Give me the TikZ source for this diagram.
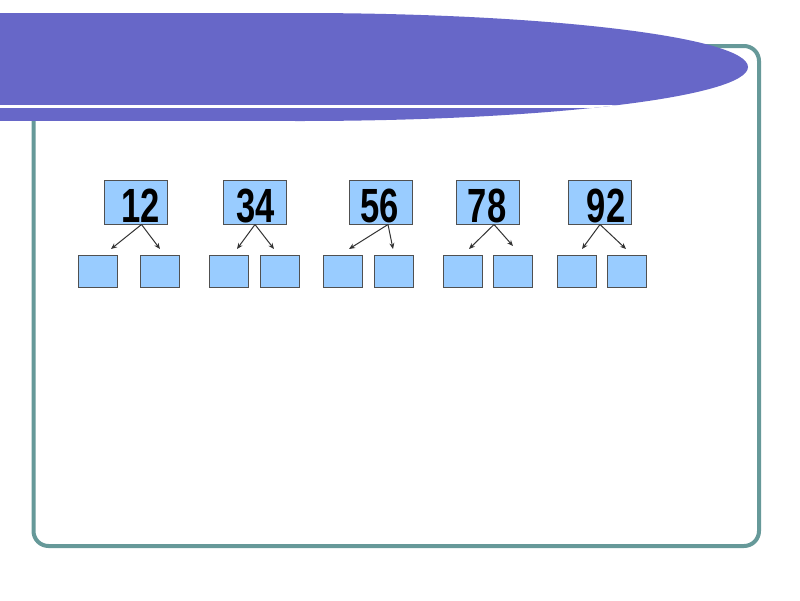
\documentclass[tikz,border=0pt]{standalone}
\usepackage{fontspec}
\setsansfont{Liberation Sans}
\usetikzlibrary{arrows.meta}
\definecolor{nbBanner}{HTML}{6767C8}
\definecolor{nbFrame}{HTML}{669999}
\definecolor{nbFill}{HTML}{99CCFF}
\definecolor{nbEdge}{HTML}{505050}
\definecolor{nbInk}{HTML}{333333}
\tikzset{
  nb frame/.style={draw=nbFrame, line width=4pt, rounded corners=15pt},
  nb box/.style={draw=nbEdge, fill=nbFill, line width=1pt, minimum width=63pt, minimum height=44pt, inner sep=0pt},
  nb leaf/.style={draw=nbEdge, fill=nbFill, line width=1pt, minimum width=39pt, minimum height=32pt, inner sep=0pt},
  nb digits/.style={anchor=base, inner sep=0pt, font=\sffamily\bfseries\fontsize{48}{48}\selectfont},
  nb arrow/.style={draw=nbInk, line width=1pt, -{Stealth[length=6pt,width=5pt]}},
}

\begin{document}
\begin{tikzpicture}[x=1pt,y=-1pt]
  \useasboundingbox (0,0) rectangle (800,600);
  \fill[white] (0,0) rectangle (800,600);
  % outer frame (the banner lies over it)
  \draw[nb frame] (33.5,46) rectangle (759,546);
  % title banner: flat on the left, elliptic on the right
  \fill[nbBanner] (0,13) rectangle (300,121);
  \fill[nbBanner] (300,67) ellipse [x radius=448, y radius=54];
  \draw[white, line width=3pt] (0,106) -- (300,106);
  \begin{scope}
    \clip (300,67) ellipse [x radius=448, y radius=54];
    \draw[white, line width=3pt] (300,106) -- (760,106);
  \end{scope}
  % number boxes, their two empty boxes and the arrows
  \foreach \l/\bx/\tx/\la/\lb/\dx/\ta/\tb/\tby in
      {12/135.5/141/97.5/160/6/111/160/249,
       34/255/256/229/279.5/0/237/274/249,
       56/380.5/380/342.5/393.5/7.5/349/393/249,
       78/488/487/462.5/512.5/6/469/513/246,
       92/600/606/576.5/627/0/582/626/249} {
    \node[nb box] (b\l) at (\bx,202) {};
    \node[nb digits] (t\l) at (\tx,222.5) {\scalebox{0.72}[1]{\l}};
    \node[nb leaf] (l\l a) at (\la,271) {};
    \node[nb leaf] (l\l b) at (\lb,271) {};
    \coordinate (o\l) at ([xshift=\dx pt]b\l.south);
    \coordinate (p\l a) at (\ta,249);
    \coordinate (p\l b) at (\tb,\tby);
    \draw[nb arrow] (o\l) -- (p\l a);
    \draw[nb arrow] (o\l) -- (p\l b);
  }
\end{tikzpicture}
\end{document}
